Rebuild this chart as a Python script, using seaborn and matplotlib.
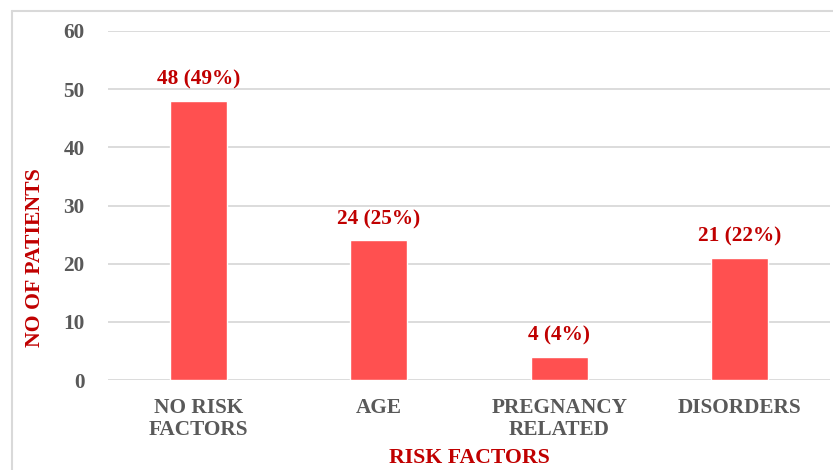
import matplotlib
matplotlib.use("Agg")
import matplotlib.pyplot as plt
from matplotlib.lines import Line2D
import seaborn as sns
import pandas as pd

categories = ["NO RISK\nFACTORS", "AGE", "PREGNANCY\nRELATED", "DISORDERS"]
patients = [48, 24, 4, 21]
percent = [49, 25, 4, 22]
y_ticks = [0, 10, 20, 30, 40, 50, 60]

sns.set_style("white")
plt.rcParams["font.family"] = ["Liberation Serif", "DejaVu Serif"]
plt.rcParams["font.weight"] = "bold"

BAR = "#FF5050"
LABEL = "#C00000"
TICK = "#595959"
GRID = "#D9D9D9"
FS = 15.3
FS_TITLE = 15.7

df = pd.DataFrame({"factor": categories, "patients": patients})

fig = plt.figure(figsize=(8.33, 4.70), dpi=100)
ax = fig.add_axes([108 / 833, 1 - 380 / 470, (830 - 108) / 833, (380 - 31) / 470])

sns.barplot(data=df, x="factor", y="patients", color=BAR, saturation=1,
            width=0.316, ax=ax, zorder=3)

ax.set_ylim(0, 60)
ax.set_yticks(y_ticks)
ax.yaxis.grid(True, color=GRID, linewidth=1.3, zorder=0)
ax.set_axisbelow(True)
for s in ax.spines.values():
    s.set_visible(False)
ax.tick_params(axis="both", length=0, labelsize=FS, labelcolor=TICK)
ax.tick_params(axis="y", pad=17)
ax.tick_params(axis="x", pad=13)
for lbl in ax.get_xticklabels() + ax.get_yticklabels():
    lbl.set_fontweight("bold")
    lbl.set_linespacing(1.15)

for i, (v, p) in enumerate(zip(patients, percent)):
    ax.annotate(f"{v} ({p}%)", (i, v), xytext=(0, 8), textcoords="offset points",
                ha="center", va="bottom", color=LABEL, fontsize=FS, fontweight="bold")

ax.set_xlabel("")
ax.set_ylabel("")
fig.text(35 / 833, 1 - 258 / 470, "NO OF PATIENTS", rotation=90, ha="center", va="center",
         color=LABEL, fontsize=FS_TITLE, fontweight="bold")
fig.text(469 / 833, 1 - 458 / 470, "RISK FACTORS", ha="center", va="center",
         color=LABEL, fontsize=FS_TITLE, fontweight="bold")

# chart frame
fig.add_artist(Line2D([11.5 / 833, 11.5 / 833], [0, 1 - 10.5 / 470], color=GRID, lw=1.5))
fig.add_artist(Line2D([11.5 / 833, 1], [1 - 10.5 / 470, 1 - 10.5 / 470], color=GRID, lw=1.5))

fig.savefig("out.png", dpi=100)
